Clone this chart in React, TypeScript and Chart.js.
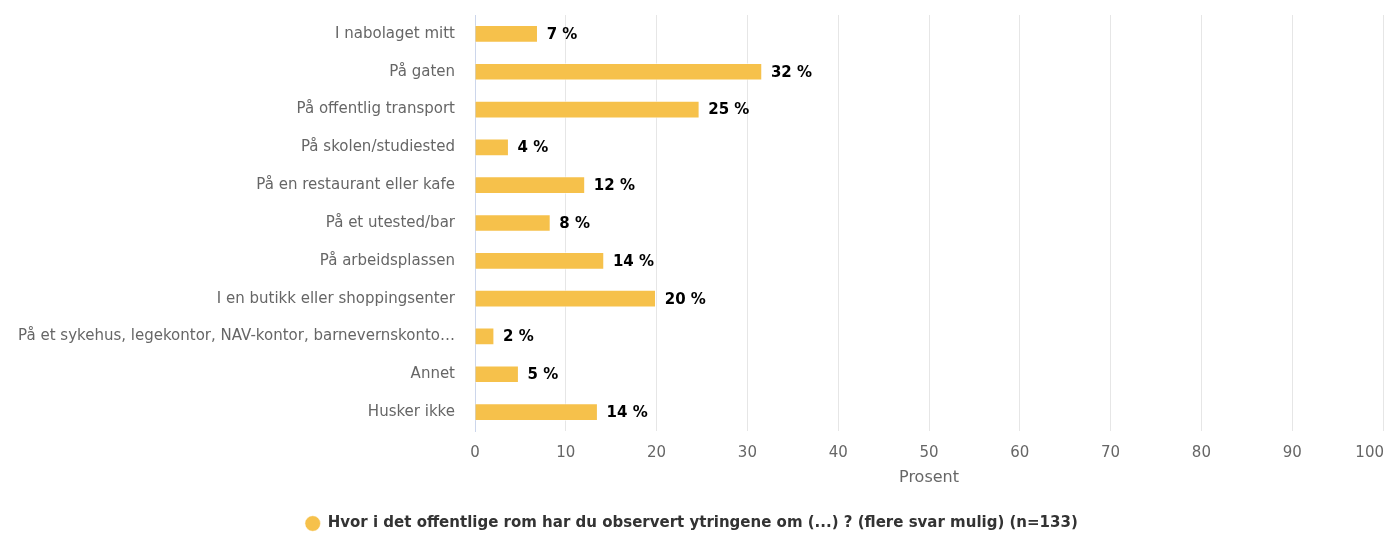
import React, { useEffect, useRef } from "react";
import { Chart, registerables } from "chart.js";

Chart.register(...registerables);

const categories = [
  "I nabolaget mitt",
  "På gaten",
  "På offentlig transport",
  "På skolen/studiested",
  "På en restaurant eller kafe",
  "På et utested/bar",
  "På arbeidsplassen",
  "I en butikk eller shoppingsenter",
  "På et sykehus, legekontor, NAV-kontor, barnevernskonto…",
  "Annet",
  "Husker ikke",
];

const values = [6.9, 31.6, 24.7, 3.7, 12.1, 8.3, 14.2, 19.9, 2.1, 4.8, 13.5];

const xTicks = [0, 10, 20, 30, 40, 50, 60, 70, 80, 90, 100];

const seriesName =
  "Hvor i det offentlige rom har du observert ytringene om (...) ? (flere svar mulig) (n=133)";

const axisTitle = "Prosent";

const FONT = "'DejaVu Sans', sans-serif";

const labelsPlugin = {
  id: "customLabels",
  afterDatasetsDraw(chart: any) {
    const ctx = chart.ctx;
    const meta = chart.getDatasetMeta(0);
    ctx.save();
    ctx.font = `bold 15px ${FONT}`;
    ctx.fillStyle = "#000000";
    ctx.textBaseline = "middle";
    ctx.textAlign = "left";
    meta.data.forEach((bar: any, i: number) => {
      ctx.fillText(`${Math.round(values[i])} %`, bar.x + 9, bar.y + 1);
    });
    const xs = chart.scales.x;
    ctx.font = `15px ${FONT}`;
    ctx.fillStyle = "#666666";
    xTicks.forEach((t) => {
      const px = xs.getPixelForValue(t);
      const txt = String(t);
      const w = ctx.measureText(txt).width;
      let x = px - w / 2;
      if (x + w > chart.width - 1) x = chart.width - 1 - w;
      ctx.fillText(txt, x, chart.chartArea.bottom + 22);
    });
    ctx.restore();
  },
};

export default function App() {
  const ref = useRef<HTMLCanvasElement | null>(null);

  useEffect(() => {
    document.body.style.margin = "0";
    const canvas = ref.current;
    if (!canvas) return;
    const chart = new Chart(canvas, {
      type: "bar",
      data: {
        labels: categories,
        datasets: [
          {
            label: seriesName,
            data: values,
            backgroundColor: "#F6C14B",
            borderColor: "rgba(255,255,255,0.5)",
            borderWidth: 1,
            barThickness: 17,
            pointStyle: "circle",
          },
        ],
      },
      options: {
        indexAxis: "y",
        responsive: false,
        animation: false,
        devicePixelRatio: 1,
        layout: { padding: { top: 15, right: 2, left: 0, bottom: -8 } },
        scales: {
          x: {
            min: 0,
            max: 100,
            ticks: { display: false, stepSize: 10 },
            grid: { color: "#e6e6e6", lineWidth: 1, drawTicks: false },
            border: { display: false },
            title: {
              display: true,
              text: axisTitle,
              color: "#666666",
              font: { family: FONT, size: 16 },
              padding: { top: 0, bottom: 25 },
            },
            afterFit(scale: any) {
              scale.height = 81;
              scale.paddingLeft = 0;
              scale.paddingRight = 0;
            },
          },
          y: {
            grid: { display: false, drawTicks: false },
            border: { display: true, color: "#ccd6eb", width: 1 },
            ticks: {
              color: "#666666",
              font: { family: FONT, size: 15 },
              padding: 20,
              autoSkip: false,
            },
            afterFit(scale: any) {
              scale.width = 475;
              scale.paddingTop = 0;
              scale.paddingBottom = 0;
            },
          },
        },
        plugins: {
          legend: {
            position: "bottom",
            labels: {
              usePointStyle: true,
              pointStyle: "circle",
              boxHeight: 11,
              padding: 4,
              color: "#333333",
              font: { family: FONT, size: 15, weight: "bold" },
            },
          },
          tooltip: { enabled: false },
        },
      },
      plugins: [labelsPlugin],
    });
    return () => chart.destroy();
  }, []);

  return (
    <div style={{ width: 1385, height: 533 }}>
      <canvas ref={ref} width={1385} height={533} />
    </div>
  );
}
